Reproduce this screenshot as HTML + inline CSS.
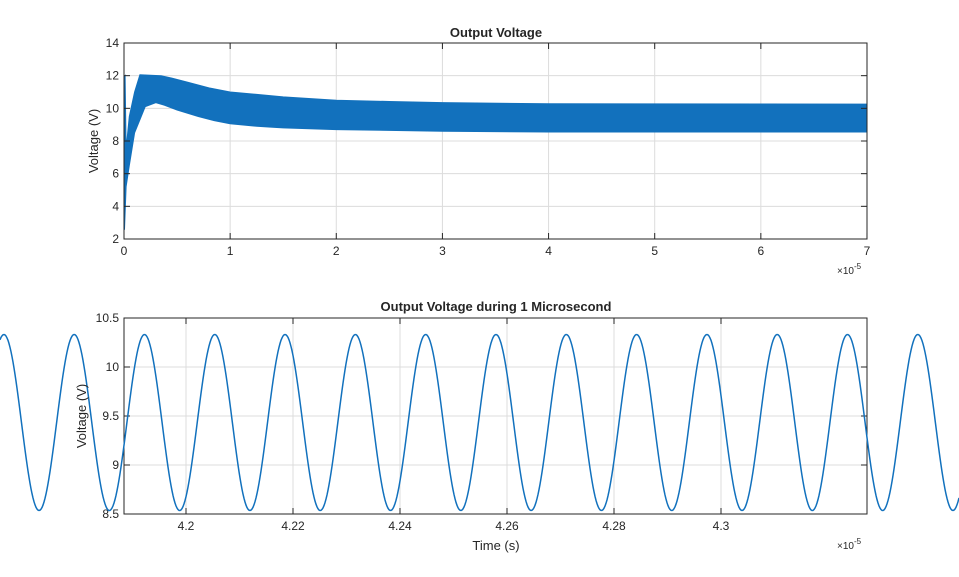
<!DOCTYPE html>
<html><head><meta charset="utf-8"><style>
html,body{margin:0;padding:0;background:#fff;width:959px;height:577px;overflow:hidden}
svg text{font-family:"Liberation Sans",Arial,sans-serif;fill:#262626}
</style></head><body>
<svg id="s" width="959" height="577" xmlns="http://www.w3.org/2000/svg">
<rect width="959" height="577" fill="#fff"/>
<g id="g1"></g>
<text x="496" y="37" font-size="13" font-weight="bold" text-anchor="middle">Output Voltage</text>
<text x="496" y="311" font-size="13" font-weight="bold" text-anchor="middle">Output Voltage during 1 Microsecond</text>
<text transform="translate(98,141) rotate(-90)" font-size="13" text-anchor="middle">Voltage (V)</text>
<text transform="translate(86,416) rotate(-90)" font-size="13" text-anchor="middle">Voltage (V)</text>
<text x="496" y="550" font-size="13" text-anchor="middle">Time (s)</text>
<text x="837" y="274" font-size="10">×10<tspan dy="-5" font-size="8">-5</tspan></text>
<text x="837" y="549" font-size="10">×10<tspan dy="-5" font-size="8">-5</tspan></text>
</svg>
<script>
var g=document.getElementById('g1'),h='';
var L=124,R=867,T1=43,B1=239;
function X1(t){return L+t*106.14}function Y1(v){return T1+(14-v)*16.333}
for(var i=1;i<7;i++)h+='<line x1="'+X1(i)+'" y1="'+T1+'" x2="'+X1(i)+'" y2="'+B1+'" stroke="#dcdcdc"/>';
for(var v=4;v<14;v+=2)h+='<line x1="'+L+'" y1="'+Y1(v)+'" x2="'+R+'" y2="'+Y1(v)+'" stroke="#dcdcdc"/>';
var up=[[0,11.9],[0.01,12],[0.02,7.5],[0.05,9.5],[0.1,11],[0.15,12.05],[0.35,12],[0.45,11.85],[0.6,11.6],[0.8,11.25],[1,11],[1.25,10.85],[1.5,10.7],[2,10.5],[2.5,10.42],[3,10.35],[4,10.28],[7,10.26]];
var lo=[[7,8.55],[4,8.55],[3,8.6],[2,8.7],[1.5,8.8],[1.25,8.9],[1,9.05],[0.85,9.25],[0.7,9.5],[0.5,9.9],[0.38,10.2],[0.3,10.35],[0.2,10.1],[0.1,8.5],[0.05,6.5],[0.02,5.2],[0.005,2.6],[0,2.6]];
var p='';up.concat(lo).forEach(function(a,k){p+=(k?'L':'M')+X1(a[0]).toFixed(1)+' '+Y1(a[1]).toFixed(1)});
h+='<path d="'+p+'Z" fill="#1271bd" stroke="#1271bd" stroke-width="1"/>';
h+='<rect x="'+L+'" y="'+T1+'" width="'+(R-L)+'" height="'+(B1-T1)+'" fill="none" stroke="#262626"/>';
for(var i=0;i<=7;i++){h+='<line x1="'+X1(i)+'" y1="'+B1+'" x2="'+X1(i)+'" y2="'+(B1-6)+'" stroke="#262626"/><line x1="'+X1(i)+'" y1="'+T1+'" x2="'+X1(i)+'" y2="'+(T1+6)+'" stroke="#262626"/>';h+='<text x="'+X1(i)+'" y="'+(B1+16)+'" font-size="12" text-anchor="middle">'+i+'</text>';}
for(var v=2;v<=14;v+=2){h+='<line x1="'+L+'" y1="'+Y1(v)+'" x2="'+(L+6)+'" y2="'+Y1(v)+'" stroke="#262626"/><line x1="'+R+'" y1="'+Y1(v)+'" x2="'+(R-6)+'" y2="'+Y1(v)+'" stroke="#262626"/><text x="'+(L-5)+'" y="'+(Y1(v)+4)+'" font-size="12" text-anchor="end">'+v+'</text>';}
var T2=318,B2=514;
function X2(t){return 186+(t-4.2)*5350}function Y2(v){return T2+(10.5-v)*98}
for(var t=4.2;t<4.31;t+=0.02)h+='<line x1="'+X2(t)+'" y1="'+T2+'" x2="'+X2(t)+'" y2="'+B2+'" stroke="#dcdcdc"/>';
for(var v=9;v<10.5;v+=0.5)h+='<line x1="'+L+'" y1="'+Y2(v)+'" x2="'+R+'" y2="'+Y2(v)+'" stroke="#dcdcdc"/>';
h+='<rect x="'+L+'" y="'+T2+'" width="'+(R-L)+'" height="'+(B2-T2)+'" fill="none" stroke="#262626"/>';
var lab=['4.2','4.22','4.24','4.26','4.28','4.3'];
for(var i=0;i<6;i++){var x=X2(4.2+0.02*i);h+='<line x1="'+x+'" y1="'+B2+'" x2="'+x+'" y2="'+(B2-6)+'" stroke="#262626"/><line x1="'+x+'" y1="'+T2+'" x2="'+x+'" y2="'+(T2+6)+'" stroke="#262626"/><text x="'+x+'" y="'+(B2+16)+'" font-size="12" text-anchor="middle">'+lab[i]+'</text>';}
var yl=['8.5','9','9.5','10','10.5'];
for(var i=0;i<5;i++){var y=Y2(8.5+0.5*i);h+='<line x1="'+L+'" y1="'+y+'" x2="'+(L+6)+'" y2="'+y+'" stroke="#262626"/><line x1="'+R+'" y1="'+y+'" x2="'+(R-6)+'" y2="'+y+'" stroke="#262626"/><text x="'+(L-5)+'" y="'+(y+4)+'" font-size="12" text-anchor="end">'+yl[i]+'</text>';}
var q='';for(var x=0;x<=959;x+=1){var y=422.5-88*Math.cos(2*Math.PI*(x-144.5)/70.3);q+=(x?'L':'M')+x+' '+y.toFixed(1);}
h+='<path d="'+q+'" fill="none" stroke="#1271bd" stroke-width="1.5"/>';
g.innerHTML=h;
</script>
</body></html>
